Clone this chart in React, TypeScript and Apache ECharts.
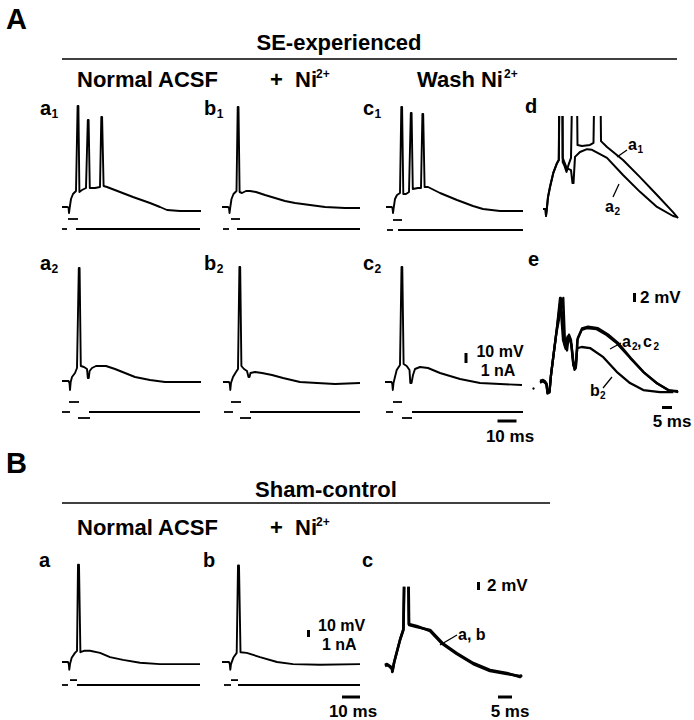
import React, { useEffect, useRef } from "react";
import * as echarts from "echarts";

type Pt = [number, number];
type Seg = [number, number, number];

// ---------- A. SE-experienced : membrane potential (ms, mV relative to rest) ----------
const traceA1: Pt[] = [[0,0],[2.75,0],[3.25,-0.5],[3.5,-6],[3.9,0],[4.5,8],[5.5,13],[7,16],[7.8,101],[8.2,101],[8.7,15],[10,17],[12,19],[12.9,87],[13.3,87],[13.9,19],[16.5,19],[19,20],[19.65,90],[20.05,90],[20.8,21],[22.5,20],[29,15],[35.5,10],[44,4],[49,0],[52.5,-3],[59,-4],[69.5,-4]];
const traceB1: Pt[] = [[0,0],[3,0],[3.5,-1],[3.75,-6],[4.15,0],[4.75,8],[5.75,13],[7.25,16],[7.85,100],[8.25,100],[8.8,15],[10,14],[12,16],[14,16],[17,15],[21.5,12],[26.5,9],[31.5,6],[36.5,4],[44,2],[51.5,0],[61.5,-1],[69,-1]];
const traceC1: Pt[] = [[0,0],[2.75,0],[3.25,-1],[3.5,-6],[3.9,0],[4.5,8],[5.5,12],[7,14],[7.65,100],[8.05,100],[8.65,13],[10,13],[11.5,15],[12.4,94],[12.8,94],[13.4,18],[16,19],[17.5,19],[18.2,93],[18.6,93],[19.3,20],[21,20],[27,14],[35.5,7],[43.5,1],[48.5,-2],[57,-4],[68.5,-4]];
const traceA2: Pt[] = [[0,0],[3.25,0],[3.75,-2],[4,-9],[4.35,-1],[5,4],[6.5,8],[7.5,13],[8.4,113],[8.8,113],[9.4,15],[11,14],[12.5,12],[12.9,3],[13.4,3],[13.8,10],[15,13],[17,15],[22,15],[26.5,12],[31.5,8],[36.5,4],[44,1],[51.5,-1],[61.5,-1],[69.5,-1]];
const traceB2: Pt[] = [[0,0],[3,0],[3.4,-2],[3.65,-8],[4,-1],[5,5],[6.5,10],[7.5,13],[8.2,115],[8.6,115],[9.2,16],[10.5,13],[12,11],[12.75,5],[13.25,5],[13.75,9],[16,10],[19.5,9],[24.5,7],[30,4],[38.5,0],[47,-1],[56,-2],[68.5,-1]];
const traceC2: Pt[] = [[0,0],[3.25,0],[3.65,-2],[3.9,-8],[4.25,-1],[5.85,12],[7.5,17],[8.25,115],[8.65,115],[9.3,18],[10.85,16],[12.25,12],[12.65,-1],[13.25,-1],[14,7],[15,13],[17.5,15],[21.5,14],[27.5,9],[32.5,6],[37.5,3],[42.5,1],[47.5,-1],[57.5,-2],[68.5,-3]];

// d: a1 vs a2 at high gain (spikes truncated)
const traceDA1: Pt[] = [[0,0],[1.25,0],[1.5,-2],[1.85,-0.3],[2.5,3.4],[3.5,6.3],[5.15,10.3],[6.85,12.9],[7.9,14],[8.25,48],[9.5,48],[9.85,13.4],[10.75,12.3],[11.75,10.6],[12.75,12.6],[14,14.6],[15,48],[16.75,48],[17.25,18.3],[19.5,18],[23.5,18.3],[25.25,18.9],[26,48],[28.5,48],[29,19.4],[32,17.7],[40,14],[48.5,9.1],[57,4],[65,-0.9],[67.5,-2.6]];
const traceDA2: Pt[] = [[0,0],[1.25,0],[1.5,-2],[1.85,-0.3],[2.5,3.4],[3.5,6.3],[5.15,10.3],[6.85,12.9],[7.9,14],[8.5,48],[9.7,48],[9.85,14.6],[11.85,11.7],[14,11.1],[14.75,7.4],[15.25,7.4],[16,14.9],[18.5,16.3],[22,17.1],[24.5,16.9],[32,14.6],[40,9.7],[48.5,4.9],[57,0.6],[65,-2],[67,-2.3]];

// e: a2, c2, b2 at high gain
const traceEA2: Pt[] = [[0,0],[1.5,0.3],[2.5,0],[3.25,-0.6],[3.75,-3.1],[4.75,-2.9],[5.5,2],[6.65,7.1],[8.35,14.9],[10,24],[11.5,12],[12.5,10],[13.5,12.5],[14.5,13],[15.5,11],[16.5,6],[17.25,3.5],[17.9,4],[18.65,12],[20.85,14.9],[23.35,15.4],[28.35,15.1],[33.35,13.4],[38.35,11.1],[45,6.9],[51.65,2.9],[58.35,-0.3],[64.15,-2.3],[69.15,-2.9]];
const traceEC2: Pt[] = [[0,0.3],[1.5,0.6],[2.5,0.2],[3.25,-0.4],[3.75,-2.8],[4.75,-2.6],[5.6,2.5],[6.8,8],[8.6,16],[10.4,24],[11.8,13],[12.8,9.5],[13.8,13],[14.8,12.5],[15.8,10.5],[16.6,5],[17.4,3.8],[18,4.5],[18.9,12.6],[21,15.3],[24,15.8],[29,15.4],[34,13.6],[39,11.2],[45.5,6.8],[52,2.7],[58.8,-0.5],[64.5,-2.4],[69,-2.6]];
const traceEB2: Pt[] = [[0,-0.2],[1.5,0.2],[2.5,-0.2],[3.25,-0.8],[3.75,-3.3],[4.75,-3],[5.4,1.5],[6.5,6.5],[8.2,14],[10.2,20],[11.65,24],[12.5,11.1],[13.5,9],[14.5,13.5],[15.5,12],[16.25,8],[17,4.3],[17.75,4.3],[18.65,9.7],[20.85,10],[25,9.7],[31.65,7.1],[38.35,2.9],[45,-0.3],[51.65,-2.3],[60,-2.9],[66.65,-2.9]];

// ---------- B. Sham-control ----------
const traceBa: Pt[] = [[0,0],[3,0],[3.4,-3],[3.65,-11],[4,-3],[4.85,6],[6.5,13],[7.5,16],[8,139],[8.5,139],[9.2,14],[11,16],[14,16],[19,13],[24,7],[30.5,3],[39,-1],[49,-3],[69,-3]];
const traceBb: Pt[] = [[0,0],[3.5,0],[3.9,-3],[4.15,-11],[4.5,-3],[5.65,6],[7.35,13],[8,138],[8.5,138],[9.25,14],[12.35,13],[19,7],[27.5,0],[35.5,-3],[49,-4],[69,-3]];
const traceBcA: Pt[] = [[0,0],[0.7,0.25],[1.8,-0.25],[2.5,-0.75],[2.6,-1.5],[3.2,0.75],[5.35,6.5],[6.55,9],[7,30],[8.3,30],[8.6,10.25],[11.3,9.75],[16.1,9],[20.5,5.75],[25.6,3.25],[31.5,0.75],[37.5,-1],[43.5,-1.75],[48.2,-2.75],[48.9,-2.25]];
const traceBcB: Pt[] = [[0,0.25],[0.7,0.5],[1.8,0],[2.5,-0.5],[2.7,-1.25],[3.3,1],[5.45,6.75],[6.6,9.25],[7.1,30],[8.2,30],[8.5,10.5],[11.3,10],[16.1,8.75],[20.5,5.5],[25.6,3],[31.5,0.5],[37.5,-1.25],[43.5,-2],[48.2,-2.5],[48.9,-2.5]];

// ---------- injected current: [start ms, end ms, nA] ----------
const stimA1: Seg[] = [[0,2.5,0],[3,8,1],[7,69,0]];
const stimB1: Seg[] = [[0.5,3.5,0],[4.5,9,1],[7.5,69,0]];
const stimC1: Seg[] = [[0.5,3.5,0],[3.5,8,1],[6,68.5,0]];
const stimA2: Seg[] = [[0,4,0],[3.5,8.5,1],[8,14,-0.6],[13.5,69,0]];
const stimB2: Seg[] = [[0.5,5,0],[4,9,1],[8.5,14,-0.6],[13.5,68.5,0]];
const stimC2: Seg[] = [[0.5,4,0],[4,8.5,1],[8.5,13.5,-0.6],[13.5,69,0]];
const stimBa: Seg[] = [[0,3,0],[4,7.5,0.7],[7.5,69,0]];
const stimBb: Seg[] = [[1,4.5,0],[4.5,8,0.7],[8,69,0]];

// ---------- layout (pixels) ----------
type Panel = { left: number; width: number; pxX: number; top: number; bottom: number; zero: number; pxY: number };
const P = (left: number, width: number, pxX: number, top: number, bottom: number, zero: number, pxY: number): Panel => ({ left, width, pxX, top, bottom, zero, pxY });
const panels: Record<string, Panel> = {
  a1: P(62, 145, 2, 95, 222, 207, 1),
  b1: P(222, 145, 2, 95, 222, 207, 1),
  c1: P(386, 145, 2, 95, 222, 207, 1),
  a1i: P(62, 145, 2, 212, 240, 229, 10),
  b1i: P(222, 145, 2, 212, 240, 229, 10),
  c1i: P(386, 145, 2, 212, 240, 230, 10),
  d: P(543, 145, 2, 117, 226, 209, 3.5),
  a2: P(62, 145, 2, 255, 398, 381, 1),
  b2: P(223, 145, 2, 255, 398, 382, 1),
  c2: P(385, 145, 2, 255, 398, 382, 1),
  a2i: P(62, 145, 2, 395, 425, 412, 10),
  b2i: P(223, 145, 2, 395, 425, 412, 10),
  c2i: P(385, 145, 2, 395, 425, 412, 10),
  e: P(540, 150, 2, 285, 402, 382, 3.5),
  Ba: P(62, 145, 2, 555, 675, 662, 0.7),
  Bb: P(222, 145, 2, 555, 675, 662, 0.7),
  Bai: P(62, 145, 2, 672, 695, 685, 7),
  Bbi: P(222, 145, 2, 672, 695, 685, 7),
  Bc: P(385, 150, 2.8, 588, 690, 666, 4),
};
const keys = Object.keys(panels);

const traces: [string, Pt[], number][] = [
  ["a1", traceA1, 1.9], ["b1", traceB1, 1.9], ["c1", traceC1, 1.9],
  ["d", traceDA1, 2], ["d", traceDA2, 2],
  ["a2", traceA2, 1.9], ["b2", traceB2, 1.9], ["c2", traceC2, 1.9],
  ["e", traceEA2, 2.3], ["e", traceEC2, 2.3], ["e", traceEB2, 2.3],
  ["Ba", traceBa, 1.9], ["Bb", traceBb, 1.9],
  ["Bc", traceBcA, 2.6], ["Bc", traceBcB, 2.6],
];
const stims: [string, Seg[]][] = [
  ["a1i", stimA1], ["b1i", stimB1], ["c1i", stimC1],
  ["a2i", stimA2], ["b2i", stimB2], ["c2i", stimC2],
  ["Bai", stimBa], ["Bbi", stimBb],
];

const FONT = '"Liberation Sans", Arial, Helvetica, sans-serif';
const txt = (text: string, x: number, base: number, size: number, align = "left") => ({
  type: "text", x, y: base - 0.35 * size, silent: true,
  style: { text, fill: "#000", font: `bold ${size}px ${FONT}`, textAlign: align, textVerticalAlign: "middle", align, verticalAlign: "middle" },
});
const ln = (x1: number, y1: number, x2: number, y2: number, w = 1.3) => ({
  type: "line", silent: true, shape: { x1, y1, x2, y2 }, style: { stroke: "#000", lineWidth: w },
});
const bar = (x: number, y: number, w: number, h: number) => ({
  type: "rect", silent: true, shape: { x, y, width: w, height: h }, style: { fill: "#000" },
});
const lab = (m: string, s: string, x: number, base: number, size = 20, sub = 12) => {
  const mw = (m === "b" ? 0.611 : 0.556) * size;
  return [txt(m, x, base, size), txt(s, x + mw + 0.5, base + 3, sub)];
};

export default function App() {
  const ref = useRef<HTMLDivElement>(null);
  useEffect(() => {
    if (!ref.current) return;
    const chart = echarts.init(ref.current, undefined, { renderer: "svg" });
    const grid = keys.map((k) => {
      const p = panels[k];
      return { left: p.left, top: p.top, width: p.width, height: p.bottom - p.top, show: false };
    });
    const xAxis = keys.map((k, i) => ({ type: "value", gridIndex: i, min: 0, max: panels[k].width / panels[k].pxX, show: false }));
    const yAxis = keys.map((k, i) => {
      const p = panels[k];
      return { type: "value", gridIndex: i, min: (p.zero - p.bottom) / p.pxY, max: (p.zero - p.top) / p.pxY, show: false };
    });
    const series: any[] = [];
    traces.forEach(([k, data, w]) => {
      const i = keys.indexOf(k);
      series.push({ type: "line", xAxisIndex: i, yAxisIndex: i, data, symbol: "none", silent: true, clip: true,
        lineStyle: { color: "#000", width: w, join: "round" } });
    });
    stims.forEach(([k, segs]) => {
      const i = keys.indexOf(k);
      segs.forEach(([t0, t1, v]) => {
        series.push({ type: "line", xAxisIndex: i, yAxisIndex: i, data: [[t0, v], [t1, v]], symbol: "none", silent: true, clip: false,
          lineStyle: { color: "#000", width: 1.8 } });
      });
    });
    const graphic: any[] = [
      // Section A headers
      txt("A", 6, 29, 29),
      txt("SE-experienced", 339, 50, 22, "center"),
      ln(62, 59, 677, 59, 1.6),
      txt("Normal ACSF", 77, 87, 22),
      txt("+", 270, 87, 22), txt("Ni", 295, 87, 22), txt("2+", 316, 78, 12),
      txt("Wash Ni", 417, 87, 22), txt("2+", 504, 78, 12),
      ...lab("a", "1", 40, 115), ...lab("b", "1", 204, 115), ...lab("c", "1", 363, 115),
      txt("d", 525, 113, 20),
      ...lab("a", "2", 40, 270), ...lab("b", "2", 204, 270), ...lab("c", "2", 363, 270),
      txt("e", 528, 266, 20),
      // d labels
      ...lab("a", "1", 628, 150, 16, 10), ln(617, 157, 627, 150),
      ...lab("a", "2", 605, 212, 16, 10), ln(613, 197, 619, 184),
      // scale bars A
      bar(464.5, 353, 3, 10), txt("10 mV", 500, 357, 16, "center"), txt("1 nA", 498, 376, 16, "center"),
      bar(497.5, 419.5, 19, 3), txt("10 ms", 510, 442, 17, "center"),
      // e
      { type: "circle", silent: true, shape: { cx: 533.5, cy: 388.5, r: 1.2 }, style: { fill: "#000" } },
      bar(633, 293, 3, 9), txt("2 mV", 640, 303, 17),
      bar(662, 406, 10, 3), txt("5 ms", 672, 427, 17, "center"),
      txt("a", 622, 347, 16), txt("2", 632, 350, 10), txt(",", 637, 347, 16), txt("c", 643, 347, 16), txt("2", 653.5, 350, 10),
      ln(610, 349, 621, 343),
      txt("b", 590, 396, 16), txt("2", 600, 399, 10), ln(603, 388, 612, 377),
      // Section B
      txt("B", 6, 473, 29),
      txt("Sham-control", 326, 497, 22, "center"),
      ln(62, 503, 550, 503, 1.6),
      txt("Normal ACSF", 77, 535, 22),
      txt("+", 270, 535, 22), txt("Ni", 295, 535, 22), txt("2+", 316, 526, 12),
      txt("a", 39, 567, 20), txt("b", 203, 567, 20), txt("c", 362, 567, 20),
      bar(307, 630, 3, 7), txt("10 mV", 318, 631, 16), txt("1 nA", 322, 650, 16),
      bar(342, 695.5, 18, 3), txt("10 ms", 353, 717, 17, "center"),
      bar(477, 582, 3, 8), txt("2 mV", 487, 591, 17),
      bar(498, 695.5, 14, 3), txt("5 ms", 510, 717, 17, "center"),
      txt("a, b", 458, 640, 16), ln(440, 645, 457, 635),
    ];
    chart.setOption({ animation: false, backgroundColor: "#fff", grid, xAxis, yAxis, series, graphic });
    return () => chart.dispose();
  }, []);
  return <div ref={ref} style={{ position: "fixed", left: 0, top: 0, width: 694, height: 720, background: "#fff" }} />;
}
